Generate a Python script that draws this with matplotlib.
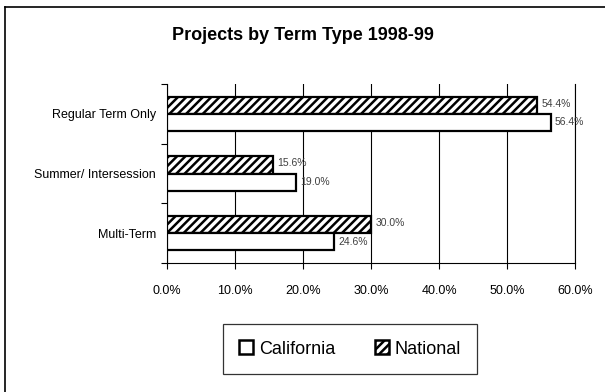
import matplotlib
matplotlib.use("Agg")
import matplotlib.pyplot as plt
from matplotlib import font_manager
from matplotlib.patches import Patch
from matplotlib.lines import Line2D
import numpy as np

categories = ["Regular Term Only", "Summer/ Intersession", "Multi-Term"]
california = [56.4, 19.0, 24.6]
national = [54.4, 15.6, 30.0]
xticks = [0, 10, 20, 30, 40, 50, 60]
xtick_labels = ["0.0%", "10.0%", "20.0%", "30.0%", "40.0%", "50.0%", "60.0%"]

names = {f.name for f in font_manager.fontManager.ttflist}
fam = "Liberation Sans Narrow" if "Liberation Sans Narrow" in names else "Liberation Sans"
plt.rcParams['font.family'] = [fam, 'DejaVu Sans']
plt.rcParams['hatch.linewidth'] = 1.8
plt.rcParams['hatch.color'] = 'black'

fig = plt.figure(figsize=(6.05, 3.92), dpi=100)
ax = fig.add_axes([167/605, 1-263/392, (575-167)/605, (263-84)/392])

y = np.arange(len(categories))[::-1].astype(float)
h = 0.29
ax.barh(y + h/2, national, height=h, color='white', edgecolor='black',
        linewidth=1.6, hatch='////', zorder=3)
ax.barh(y - h/2, california, height=h, color='white', edgecolor='black',
        linewidth=1.6, zorder=3)

for yi, v in zip(y, national):
    ax.annotate(f"{v:.1f}%", (v, yi + h/2), xytext=(3, 1), textcoords='offset points',
                va='center', ha='left', fontsize=7.5, color='#404040', zorder=5)
for yi, v in zip(y, california):
    ax.annotate(f"{v:.1f}%", (v, yi - h/2), xytext=(3, 0), textcoords='offset points',
                va='center', ha='left', fontsize=7.5, color='#404040', zorder=5)

ax.set_xlim(0, 60)
ax.set_ylim(-0.5, 2.5)
ax.set_xticks(xticks)
ax.set_xticklabels(xtick_labels, fontsize=9)
ax.set_yticks([-0.5, 0.5, 1.5, 2.5])
ax.set_yticklabels([])
ax.set_yticks(y, minor=True)
ax.set_yticklabels(categories, minor=True, fontsize=9)
ax.tick_params(axis='y', which='minor', length=0, pad=8)
ax.tick_params(axis='y', which='major', length=4, width=0.8, direction='out')
ax.tick_params(axis='x', length=4, width=0.8, direction='out', pad=12)
ax.grid(axis='x', color='black', linewidth=0.8, zorder=0)
ax.axvline(60, color='black', linewidth=0.8, clip_on=False, zorder=0)
for s in ['top', 'right']:
    ax.spines[s].set_visible(False)
ax.spines['left'].set_linewidth(0.8)
ax.spines['bottom'].set_linewidth(0.8)

fig.text(303/605, 1-36/392, "Projects by Term Type 1998-99", ha='center', va='center',
         fontsize=13, fontweight='bold')

handles = [Patch(facecolor='white', edgecolor='black', linewidth=1.8),
           Patch(facecolor='white', edgecolor='black', linewidth=1.8, hatch='////')]
leg = fig.legend(handles, ["California", "National"], loc='center',
                 bbox_to_anchor=(350/605, 1-349/392), ncol=2, fontsize=13,
                 frameon=True, fancybox=False, edgecolor='black',
                 handlelength=0.8, handleheight=0.8, handletextpad=0.3,
                 columnspacing=2.2, borderpad=0.9)
leg.get_frame().set_linewidth(0.9)

fig.add_artist(Line2D([4.5/605, 4.5/605], [0, 1-7/392], color='black', linewidth=1.2, transform=fig.transFigure))
fig.add_artist(Line2D([4.5/605, 1], [1-7/392, 1-7/392], color='black', linewidth=1.2, transform=fig.transFigure))

fig.savefig("out.png", dpi=100)
